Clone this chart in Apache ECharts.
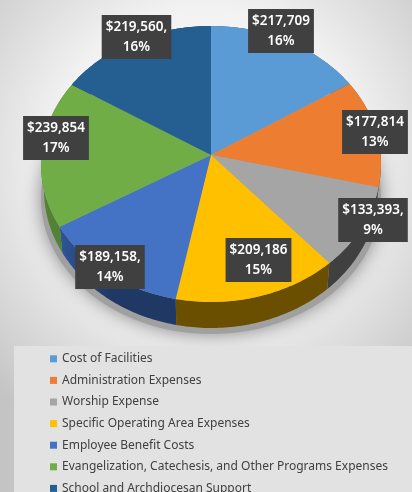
<!DOCTYPE html>
<html>
<head>
<meta charset="utf-8">
<style>
  html, body { margin: 0; padding: 0; overflow: hidden; background: #fff; }
  #chart { width: 412px; height: 492px; }
</style>
<script src="https://cdn.jsdelivr.net/npm/echarts@6/dist/echarts.min.js"></script>
</head>
<body>
<div id="chart"></div>
<script>
const categories = [
  "Cost of Facilities",
  "Administration Expenses",
  "Worship Expense",
  "Specific Operating Area Expenses",
  "Employee Benefit Costs",
  "Evangelization, Catechesis, and Other Programs Expenses",
  "School and Archdiocesan Support",
];
const amounts = [217709, 177814, 133393, 209186, 189158, 239854, 219560];
const percents = [16, 13, 9, 15, 14, 17, 16];
// the source chart has a stray comma on some labels
const trailingComma = [false, false, true, false, true, false, true];

const colors = ["#5b9bd5", "#ed7d31", "#a5a5a5", "#ffc000", "#4472c4", "#70ad47", "#255e91"];
const sideColors = ["#2e5f8c", "#7a4118", "#404040", "#6b4f00", "#1f3864", "#548235", "#163a5c"];

// label box centres, in px
const labelX = [281, 375, 373, 258.5, 110, 56, 136.5];
const labelY = [31, 132, 220, 260, 267, 138, 37];

// tilted pie: apex sits above the middle of the ellipse
const cx = 211, apexY = 155, ellipseY = 164, ellipseRy = 138;
const rx = 170, ryTop = 129, ryBottom = 147;
const depth = 26, rxBase = 167;

const total = amounts.reduce((a, b) => a + b, 0);

function point(deg, radiusX, shift) {
  const t = (deg * Math.PI) / 180;
  const c = Math.cos(t);
  const y = apexY - (c > 0 ? ryTop : ryBottom) * c;
  const k = (y - ellipseY) / ellipseRy;
  const side = Math.sin(t) < 0 ? -1 : 1;
  return [cx + side * radiusX * Math.sqrt(Math.max(0, 1 - k * k)), y + shift];
}

function renderSlice(idx) {
  return function (params, api) {
    const value = api.value(0);
    let before = 0;
    for (let i = 0; i < idx; i++) before += amounts[i];
    const start = (before / total) * 360;
    const end = ((before + value) / total) * 360;

    const top = [];
    const base = [];
    for (let d = start; d < end; d += 1) {
      top.push(point(d, rx, 0));
      base.push(point(d, rxBase, depth));
    }
    top.push(point(end, rx, 0));
    base.push(point(end, rxBase, depth));

    let sideFill = sideColors[idx];
    if (idx === 4) {
      sideFill = new echarts.graphic.LinearGradient(0, 0, 1, 0, [
        { offset: 0, color: "#2f5597" },
        { offset: 0.45, color: "#1f3864" },
        { offset: 1, color: "#1f3864" },
      ]);
    }

    return {
      type: "group",
      children: [
        {
          type: "polygon",
          z2: 1,
          shape: { points: top.concat(base.slice().reverse()) },
          style: { fill: sideFill },
        },
        {
          type: "polygon",
          z2: 10,
          shape: { points: [[cx, apexY]].concat(top) },
          style: { fill: colors[idx] },
        },
        {
          type: "text",
          z2: 20,
          x: labelX[idx],
          y: labelY[idx],
          style: {
            text: "$" + value.toLocaleString("en-US") + (trailingComma[idx] ? "," : "") + "\n" + percents[idx] + "%",
            fill: "#ffffff",
            font: "600 13.5px 'Noto Sans'",
            lineHeight: 20,
            align: "center",
            verticalAlign: "middle",
            backgroundColor: "#404040",
            padding: [2, 4],
          },
        },
      ],
    };
  };
}

const chart = echarts.init(document.getElementById("chart"), null, { renderer: "canvas" });

chart.setOption({
  animation: false,
  backgroundColor: new echarts.graphic.RadialGradient(0.5, 0.33, 0.75, [
    { offset: 0, color: "#ffffff" },
    { offset: 0.5, color: "#f2f2f2" },
    { offset: 1, color: "#c4c4c4" },
  ]),
  graphic: {
    elements: [
      {
        type: "ellipse",
        z: 0,
        shape: { cx: 211, cy: 198, rx: 170, ry: 136 },
        style: { fill: "#a0a0a0", shadowBlur: 18, shadowColor: "rgba(110,110,110,0.8)" },
      },
      {
        type: "rect",
        z: 1,
        shape: { x: 14, y: 346, width: 398, height: 146 },
        style: { fill: "#e2e2e2" },
      },
    ],
  },
  legend: {
    orient: "vertical",
    left: 50,
    top: 350,
    height: 170,
    padding: 0,
    itemWidth: 7,
    itemHeight: 7,
    itemGap: 4,
    selectedMode: false,
    icon: "rect",
    data: categories,
    textStyle: {
      fontFamily: "Noto Sans",
      fontSize: 12,
      color: "#404040",
      height: 17.6,
      lineHeight: 17.6,
    },
  },
  series: categories.map((name, i) => ({
    type: "custom",
    name: name,
    coordinateSystem: "none",
    itemStyle: { color: colors[i] },
    renderItem: renderSlice(i),
    data: [[amounts[i]]],
  })),
});
</script>
</body>
</html>
